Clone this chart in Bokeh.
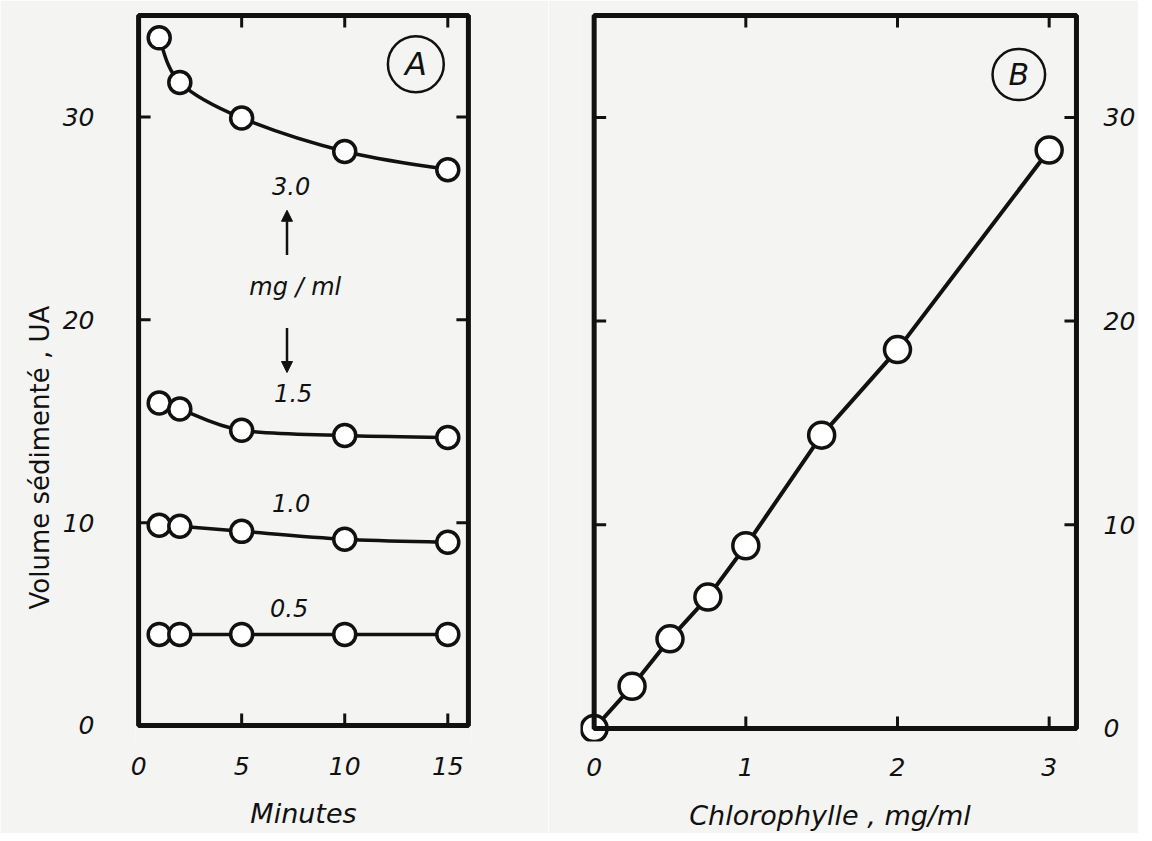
import math
from bokeh.plotting import figure
from bokeh.layouts import row
from bokeh.models import FixedTicker, Label, Arrow, NormalHead, Range1d, BoxAnnotation, Title
from bokeh.embed import file_html
from bokeh.resources import INLINE

# ---------------- data ----------------
minutes = [1, 2, 5, 10, 15]
vol_30 = [33.9, 31.7, 29.95, 28.3, 27.4]
vol_15 = [15.9, 15.6, 14.55, 14.3, 14.2]
vol_10 = [9.87, 9.82, 9.57, 9.18, 9.03]
vol_05 = [4.49, 4.49, 4.49, 4.49, 4.49]
conc_labels = ["3.0", "1.5", "1.0", "0.5"]

chlorophylle = [0, 0.25, 0.5, 0.75, 1.0, 1.5, 2.0, 3.0]
vol_b = [0, 2.07, 4.4, 6.45, 8.97, 14.4, 18.6, 28.4]

a_xticks = [0, 5, 10, 15]
b_xticks = [0, 1, 2, 3]
yticks = [0, 10, 20, 30]

A_XMAX = 16.0
B_XMAX = 3.18
YMAX = 35.0

FONT = "DejaVu Sans"
BG = "#f4f4f2"
INK = "#111111"
TICK_LEN = 12


def style_axis(ax, ticks, standoff):
    ax.ticker = FixedTicker(ticks=ticks)
    ax.axis_line_color = None
    ax.major_tick_line_color = None
    ax.minor_tick_line_color = None
    ax.major_tick_in = 0
    ax.major_tick_out = 0
    ax.major_label_text_font = FONT
    ax.major_label_text_font_style = "italic"
    ax.major_label_text_color = INK
    ax.major_label_text_font_size = "25px"
    ax.major_label_standoff = standoff
    ax.axis_label_text_font = FONT
    ax.axis_label_text_font_style = "italic"
    ax.axis_label_text_font_size = "27px"
    ax.axis_label_text_color = INK


def base_style(p):
    p.background_fill_color = BG
    p.border_fill_color = BG
    p.outline_line_color = None
    p.xgrid.grid_line_color = None
    p.ygrid.grid_line_color = None


def frame_box(p, xmax):
    # the drawn frame runs from (0, 0) to the nominal axis ends; the ranges
    # extend a few pixels past it so that the border and markers are not clipped
    p.add_layout(BoxAnnotation(left=0, bottom=0, right=xmax, top=YMAX,
                               fill_color=None, fill_alpha=0, line_color=INK,
                               line_alpha=1.0, line_width=5))


def inner_ticks(p, xs, ys, angle):
    p.ray(x=xs, y=ys, length=TICK_LEN, length_units="screen", angle=angle,
          line_color=INK, line_width=3)


def catmull(xs, ys):
    n = len(xs)
    out = dict(x0=[], y0=[], x1=[], y1=[], cx0=[], cy0=[], cx1=[], cy1=[])
    for i in range(n - 1):
        i0 = max(i - 1, 0)
        i3 = min(i + 2, n - 1)
        out["x0"].append(xs[i]); out["y0"].append(ys[i])
        out["x1"].append(xs[i + 1]); out["y1"].append(ys[i + 1])
        out["cx0"].append(xs[i] + (xs[i + 1] - xs[i0]) / 6)
        out["cy0"].append(ys[i] + (ys[i + 1] - ys[i0]) / 6)
        out["cx1"].append(xs[i + 1] - (xs[i3] - xs[i]) / 6)
        out["cy1"].append(ys[i + 1] - (ys[i3] - ys[i]) / 6)
    return out


# ---------------- panel A ----------------
pa = figure(width=548, height=833, x_range=Range1d(-0.15, A_XMAX + 0.15),
            y_range=Range1d(-0.79, YMAX + 0.15),
            output_backend="svg", toolbar_location=None,
            min_border_left=135, min_border_right=77, min_border_top=12, min_border_bottom=92)
base_style(pa)
style_axis(pa.xaxis[0], a_xticks, 15)
style_axis(pa.yaxis[0], yticks, 41)
pa.xaxis[0].axis_label = "Minutes"
pa.xaxis[0].axis_label_standoff = 20
pa.add_layout(Title(text="Volume sédimenté , UA", align="left", offset=132,
                    text_font=FONT, text_font_size="26px", text_font_style="normal",
                    text_color=INK), "left")

frame_box(pa, A_XMAX)
inner_ticks(pa, a_xticks[1:], [YMAX] * 3, -math.pi / 2)
inner_ticks(pa, a_xticks[1:], [0] * 3, math.pi / 2)
inner_ticks(pa, [A_XMAX] * 3, yticks[1:], math.pi)
inner_ticks(pa, [0] * 3, yticks[1:], 0)

for ys in [vol_30, vol_15, vol_10, vol_05]:
    seg = catmull(minutes, ys)
    pa.bezier(x0=seg["x0"], y0=seg["y0"], x1=seg["x1"], y1=seg["y1"],
              cx0=seg["cx0"], cy0=seg["cy0"], cx1=seg["cx1"], cy1=seg["cy1"],
              line_color=INK, line_width=3.5)
for ys in [vol_30, vol_15, vol_10, vol_05]:
    pa.scatter(minutes, ys, marker="circle", size=22, fill_color="white",
               line_color=INK, line_width=3.5)

label_pos = {"3.0": (7.4, 26.6), "1.5": (7.5, 16.4), "1.0": (7.4, 10.95), "0.5": (7.3, 5.8)}
for t in conc_labels:
    x, y = label_pos[t]
    pa.add_layout(Label(x=x, y=y, text=t, text_align="center", text_baseline="middle",
                        text_font=FONT, text_font_style="italic", text_font_size="24px",
                        text_color=INK))
pa.add_layout(Label(x=7.6, y=21.6, text="mg / ml", text_align="center", text_baseline="middle",
                    text_font=FONT, text_font_style="italic", text_font_size="24px",
                    text_color=INK))
pa.add_layout(Arrow(end=NormalHead(size=11, fill_color=INK, line_color=INK, line_width=1),
                    x_start=7.2, y_start=23.2, x_end=7.2, y_end=25.4,
                    line_color=INK, line_width=2.5))
pa.add_layout(Arrow(end=NormalHead(size=11, fill_color=INK, line_color=INK, line_width=1),
                    x_start=7.2, y_start=19.6, x_end=7.2, y_end=17.4,
                    line_color=INK, line_width=2.5))
pa.add_layout(Label(x=13.45, y=32.6, text="A", text_align="center", text_baseline="middle",
                    text_font=FONT, text_font_style="italic", text_font_size="32px",
                    text_color=INK, border_line_color=INK, border_line_width=2.5,
                    border_radius=28, padding=dict(left=17, right=17, top=9, bottom=9)))

# ---------------- panel B ----------------
pb = figure(width=590, height=833, x_range=Range1d(-0.09, B_XMAX + 0.02),
            y_range=Range1d(-0.64, YMAX + 0.15),
            output_backend="svg", toolbar_location=None, y_axis_location="right",
            min_border_left=32, min_border_right=57, min_border_top=12, min_border_bottom=92)
base_style(pb)
style_axis(pb.xaxis[0], b_xticks, 16)
style_axis(pb.yaxis[0], yticks, 24)
pb.xaxis[0].axis_label = "Chlorophylle , mg/ml"
pb.xaxis[0].axis_label_standoff = 21

frame_box(pb, B_XMAX)
inner_ticks(pb, b_xticks[1:], [YMAX] * 3, -math.pi / 2)
inner_ticks(pb, b_xticks[1:], [0] * 3, math.pi / 2)
inner_ticks(pb, [0] * 3, yticks[1:], 0)
inner_ticks(pb, [B_XMAX] * 3, yticks[1:], math.pi)

pb.line(chlorophylle, vol_b, line_color=INK, line_width=4)
pb.scatter(chlorophylle, vol_b, marker="circle", size=26, fill_color="white",
           line_color=INK, line_width=3.5)
pb.add_layout(Label(x=2.8, y=32.1, text="B", text_align="center", text_baseline="middle",
                    text_font=FONT, text_font_style="italic", text_font_size="30px",
                    text_color=INK, border_line_color=INK, border_line_width=2.5,
                    border_radius=26, padding=dict(left=16, right=16, top=8, bottom=8)))

layout = row(pa, pb)
open("out.html", "w").write(file_html(layout, INLINE))
